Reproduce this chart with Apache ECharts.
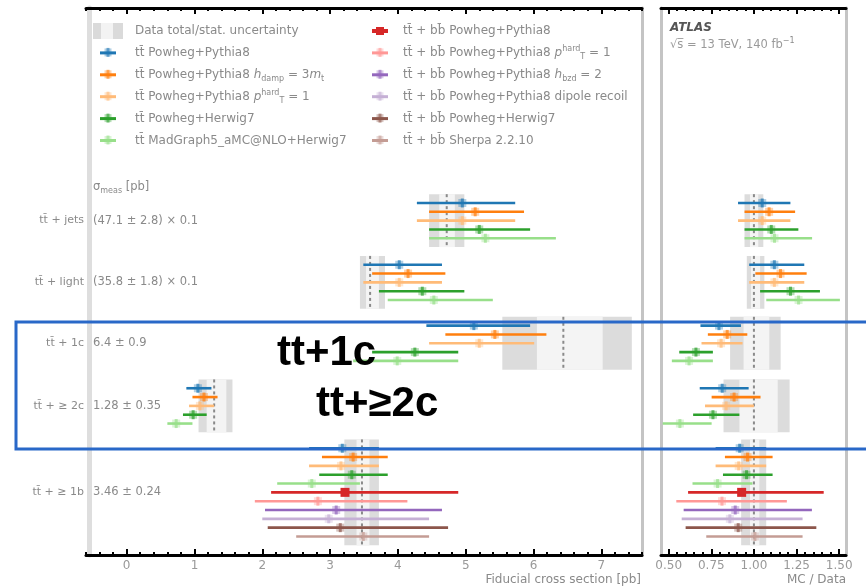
<!DOCTYPE html>
<html><head><meta charset="utf-8">
<script src="https://cdn.jsdelivr.net/npm/echarts@6/dist/echarts.min.js"></script>
<style>html,body{margin:0;padding:0;background:#fff}#c{width:866px;height:587px}</style>
</head><body><div id="c"></div>
<script>
// ---------------- data ----------------
const categories = ['tt\u0304 + jets', 'tt\u0304 + light', 'tt\u0304 + 1c', 'tt\u0304 + \u2265 2c', 'tt\u0304 + \u2265 1b'];
const sigmaLabels = ['(47.1 \u00b1 2.8) \u00d7 0.1', '(35.8 \u00b1 1.8) \u00d7 0.1', '6.4 \u00b1 0.9', '1.28 \u00b1 0.35', '3.46 \u00b1 0.24'];
const sigmaHeader = '\u03c3{sub|meas} [pb]';

// measured fiducial cross sections [pb] (jets & light scaled by 0.1)
const dataCenter = [4.72, 3.59, 6.44, 1.29, 3.47];
const dataTotLo  = [4.46, 3.44, 5.54, 1.06, 3.21];
const dataTotHi  = [4.98, 3.81, 7.45, 1.56, 3.72];
const dataStatLo = [4.61, 3.53, 6.05, 1.18, 3.39];
const dataStatHi = [4.84, 3.72, 7.02, 1.47, 3.58];

// predictions: [low, central, high] per category (jets, light, 1c, >=2c, >=1b)
const ttPP8       = [[4.28, 4.95, 5.73], [3.49, 4.02, 4.65], [4.42, 5.12, 5.95], [0.88, 1.05, 1.25], [2.69, 3.18, 3.72]];
const ttPP8hdamp  = [[4.46, 5.14, 5.86], [3.62, 4.15, 4.70], [4.70, 5.43, 6.19], [0.97, 1.14, 1.34], [2.88, 3.34, 3.85]];
const ttPP8pthard = [[4.28, 4.95, 5.73], [3.49, 4.02, 4.65], [4.46, 5.20, 6.01], [0.92, 1.08, 1.29], [2.69, 3.16, 3.72]];
const ttPH7       = [[4.46, 5.20, 5.95], [3.72, 4.36, 4.98], [3.62, 4.25, 4.89], [0.83, 0.98, 1.18], [2.84, 3.32, 3.85]];
const ttMGH7      = [[4.46, 5.29, 6.33], [3.85, 4.53, 5.40], [3.34, 3.99, 4.89], [0.60, 0.73, 0.97], [2.22, 2.73, 3.44]];
const bbPP8       = [null, null, null, null, [2.13, 3.22, 4.89]];
const bbPP8pthard = [null, null, null, null, [1.89, 2.82, 4.14]];
const bbPP8hbzd   = [null, null, null, null, [2.04, 3.09, 4.65]];
const bbPP8dipole = [null, null, null, null, [2.00, 2.98, 4.46]];
const bbPH7       = [null, null, null, null, [2.08, 3.15, 4.74]];
const bbSherpa    = [null, null, null, null, [2.50, 3.49, 4.46]];

const modelValues = [ttPP8, ttPP8hdamp, ttPP8pthard, ttPH7, ttMGH7, bbPP8, bbPP8pthard, bbPP8hbzd, bbPP8dipole, bbPH7, bbSherpa];
const modelNames = [
  'tt\u0304 Powheg+Pythia8',
  'tt\u0304 Powheg+Pythia8 {i|h}{sub|damp} = 3{i|m}{sub|t}',
  'tt\u0304 Powheg+Pythia8 {i|p}{supsub|hard}{sub|T} = 1',
  'tt\u0304 Powheg+Herwig7',
  'tt\u0304 MadGraph5_aMC@NLO+Herwig7',
  'tt\u0304 + bb\u0304 Powheg+Pythia8',
  'tt\u0304 + bb\u0304 Powheg+Pythia8 {i|p}{supsub|hard}{sub|T} = 1',
  'tt\u0304 + bb\u0304 Powheg+Pythia8 {i|h}{sub|bzd} = 2',
  'tt\u0304 + bb\u0304 Powheg+Pythia8 dipole recoil',
  'tt\u0304 + bb\u0304 Powheg+Herwig7',
  'tt\u0304 + bb\u0304 Sherpa 2.2.10'
];
const dataLegendName = 'Data total/stat. uncertainty';

// x-axis tick labels
const xLabelsMain = [0, 1, 2, 3, 4, 5, 6, 7];
const xLabelsRatio = [0.5, 0.75, 1.0, 1.25, 1.5];

// ---------------- style / layout ----------------
const modelColors = ['#1f77b4', '#ff7f0e', '#ffbb78', '#2ca02c', '#98df8a', '#d62728', '#ff9896', '#9467bd', '#c5b0d5', '#8c564b', '#c49c94'];
const modelSquare = [false, false, false, false, false, true, false, false, false, false, false];
const rowPos = [24.1, 31.1, 38.0, 45.1, 54.9];
const headerPos = 20.3;
const FONT = 'DejaVu Sans';
const TXT = '#8a8a8a';

const minorMain = [];
for (let i = -3; i <= 38; i++) { const v = +(i * 0.2).toFixed(1); if (Math.abs(v - Math.round(v)) > 1e-6) minorMain.push(v); }
const minorRatio = [];
for (let i = 10; i <= 30; i++) { const v = +(i * 0.05).toFixed(2); if (Math.abs(v * 4 - Math.round(v * 4)) > 1e-6) minorRatio.push(v); }

function rowCount(r) { return modelValues.filter(m => m[r]).length; }
function modelData(mi, ratio) {
  const out = [];
  for (let r = 0; r < categories.length; r++) {
    const v = modelValues[mi][r];
    if (!v) continue;
    let idx = 0;
    for (let k = 0; k < mi; k++) if (modelValues[k][r]) idx++;
    const n = rowCount(r);
    const y = rowPos[r] + (idx - (n - 1) / 2);
    const d = ratio ? dataCenter[r] : 1;
    out.push([v[1] / d, v[0] / d, v[2] / d, y]);
  }
  return out;
}
function bandData(ratio) {
  return categories.map((_, r) => {
    const d = ratio ? dataCenter[r] : 1;
    return [dataTotLo[r] / d, dataTotHi[r] / d, dataStatLo[r] / d, dataStatHi[r] / d, dataCenter[r] / d, rowPos[r], rowCount(r)];
  });
}
function clampX(x, cs) { return Math.max(cs.x, Math.min(cs.x + cs.width, x)); }
function renderBand(params, api) {
  const cs = params.coordSys;
  const y = api.value(5), hh = api.value(6) / 2 + 0.5;
  const top = api.coord([0, y - hh])[1], bot = api.coord([0, y + hh])[1];
  const X = v => clampX(api.coord([v, y])[0], cs);
  const tl = X(api.value(0)), th = X(api.value(1)), sl = X(api.value(2)), sh = X(api.value(3)), c = X(api.value(4));
  return {type: 'group', children: [
    {type: 'rect', shape: {x: tl, y: top, width: th - tl, height: bot - top}, style: {fill: '#dcdcdc'}},
    {type: 'rect', shape: {x: sl, y: top, width: sh - sl, height: bot - top}, style: {fill: '#f4f4f4'}},
    {type: 'line', shape: {x1: c, y1: top, x2: c, y2: bot}, style: {stroke: '#8a8a8a', lineWidth: 2, lineDash: [3, 3]}}
  ]};
}
function makeBarRenderer(color, square) {
  return function (params, api) {
    const cs = params.coordSys;
    const yv = api.value(3);
    const pc = api.coord([api.value(0), yv]);
    const pl = api.coord([api.value(1), yv]);
    const ph = api.coord([api.value(2), yv]);
    const x1 = clampX(pl[0], cs), x2 = clampX(ph[0], cs);
    const ch = [];
    if (x2 > x1) ch.push({type: 'rect', shape: {x: x1, y: pc[1] - 1.3, width: x2 - x1, height: 2.6}, style: {fill: color}});
    if (pc[0] >= cs.x && pc[0] <= cs.x + cs.width) {
      if (square) ch.push({type: 'rect', shape: {x: pc[0] - 4.5, y: pc[1] - 4.5, width: 9, height: 9}, style: {fill: color}});
      else {
        ch.push({type: 'rect', shape: {x: pc[0] - 4, y: pc[1] - 4, width: 8, height: 8}, style: {fill: color, opacity: 0.35}});
        ch.push({type: 'rect', shape: {x: pc[0] - 1.5, y: pc[1] - 4.5, width: 3, height: 9}, style: {fill: color, opacity: 0.7}});
      }
    }
    return {type: 'group', children: ch};
  };
}

function xAxisDef(grid, pos, min, max, ticks, len, showLine, labels, fmt) {
  return {
    type: 'value', gridIndex: grid, position: pos, min: min, max: max,
    axisLine: {show: showLine, onZero: false, lineStyle: {color: '#000', width: 3}},
    axisTick: {show: true, inside: true, length: len, customValues: ticks, lineStyle: {color: '#000', width: 2}},
    axisLabel: labels ? {show: true, customValues: labels, formatter: fmt, color: '#999', fontFamily: FONT, fontSize: 12, margin: 5} : {show: false},
    splitLine: {show: false}, minorTick: {show: false}
  };
}
const yBase = {type: 'value', inverse: true, min: 0, max: 62, splitLine: {show: false}, axisTick: {show: false}};
function yAxisDef(grid, pos, extra) {
  return Object.assign({}, yBase, {gridIndex: grid, position: pos,
    axisLine: {show: true, onZero: false, lineStyle: {color: '#c4c4c4', width: 3}},
    axisLabel: {show: false}}, extra || {});
}

const richSub = {
  sub: {fontFamily: FONT, fontSize: 8, verticalAlign: 'bottom', lineHeight: 9, fill: TXT, color: TXT},
  supsub: {fontFamily: FONT, fontSize: 8, verticalAlign: 'top', lineHeight: 9, fill: TXT, color: TXT},
  sup: {fontFamily: FONT, fontSize: 8, verticalAlign: 'top', lineHeight: 9, fill: TXT, color: TXT},
  i: {fontFamily: FONT, fontSize: 12, fontStyle: 'italic', fill: TXT, color: TXT}
};

const series = [];
series.push({type: 'custom', name: dataLegendName, xAxisIndex: 0, yAxisIndex: 0, data: bandData(false), renderItem: renderBand, z: 1, silent: true});
series.push({type: 'custom', name: dataLegendName + ' ratio', xAxisIndex: 4, yAxisIndex: 3, data: bandData(true), renderItem: renderBand, z: 1, silent: true});
modelValues.forEach((m, mi) => {
  const r = makeBarRenderer(modelColors[mi], modelSquare[mi]);
  series.push({type: 'custom', name: modelNames[mi], xAxisIndex: 0, yAxisIndex: 0, data: modelData(mi, false), renderItem: r, z: 3, silent: true});
  series.push({type: 'custom', name: modelNames[mi] + ' ratio', xAxisIndex: 4, yAxisIndex: 3, data: modelData(mi, true), renderItem: r, z: 3, silent: true});
});

// ---------------- graphic: legend, labels, annotations ----------------
const graphics = [];
function legendIcon(cx, cy, mi) {
  const col = modelColors[mi];
  if (modelSquare[mi]) {
    graphics.push({type: 'rect', shape: {x: cx - 8, y: cy - 2, width: 16, height: 4}, style: {fill: col}});
    graphics.push({type: 'rect', shape: {x: cx - 4, y: cy - 4, width: 8, height: 8}, style: {fill: col}});
  } else {
    graphics.push({type: 'rect', shape: {x: cx - 8, y: cy - 1.5, width: 16, height: 3}, style: {fill: col}});
    graphics.push({type: 'rect', shape: {x: cx - 3.5, y: cy - 4.5, width: 7, height: 8}, style: {fill: col, opacity: 0.35}});
    graphics.push({type: 'rect', shape: {x: cx - 1.5, y: cy - 5, width: 3, height: 9}, style: {fill: col, opacity: 0.6}});
  }
}
function legendText(x, y, txt) {
  graphics.push({type: 'text', x: x, y: y, style: {text: txt, fontFamily: FONT, fontSize: 12, fill: TXT, lineHeight: 16, verticalAlign: 'middle', align: 'left', rich: richSub}});
}
const rowY = i => 31 + i * 21.9;
// data entry
graphics.push({type: 'rect', shape: {x: 93, y: 23, width: 30, height: 16}, style: {fill: '#dadada'}});
graphics.push({type: 'rect', shape: {x: 101, y: 23, width: 12, height: 16}, style: {fill: '#f3f3f3'}});
legendText(135, rowY(0), dataLegendName);
for (let i = 0; i < 5; i++) { legendIcon(108, rowY(i + 1), i); legendText(135, rowY(i + 1), modelNames[i]); }
for (let i = 5; i < 11; i++) { legendIcon(380, rowY(i - 5), i); legendText(403, rowY(i - 5), modelNames[i]); }

graphics.push({type: 'text', x: 670, y: 28, style: {text: 'ATLAS', fontFamily: FONT, fontSize: 12, fontWeight: 'bold', fontStyle: 'italic', fill: '#555', verticalAlign: 'middle'}});
graphics.push({type: 'text', x: 670, y: 45, style: {text: '\u221as\u0305 = 13 TeV, 140 fb{sup|\u22121}', fontFamily: FONT, fontSize: 11.5, fill: '#9a9a9a', lineHeight: 16, verticalAlign: 'middle', rich: richSub}});
graphics.push({type: 'text', x: 641, y: 580, style: {text: 'Fiducial cross section [pb]', fontFamily: FONT, fontSize: 12, fill: TXT, align: 'right', verticalAlign: 'middle'}});
graphics.push({type: 'text', x: 846, y: 580, style: {text: 'MC / Data', fontFamily: FONT, fontSize: 12, fill: TXT, align: 'right', verticalAlign: 'middle'}});

// annotation overlay
graphics.push({type: 'rect', z: 100, shape: {x: 16, y: 322, width: 880, height: 127}, style: {fill: null, stroke: '#2968c8', lineWidth: 3}});
graphics.push({type: 'text', z: 101, x: 277, y: 353, style: {text: 'tt+1c', fontFamily: 'Liberation Sans', fontWeight: 'bold', fontSize: 42, fill: '#000', verticalAlign: 'middle'}});
graphics.push({type: 'text', z: 101, x: 316, y: 404, style: {text: 'tt+\u22652c', fontFamily: 'Liberation Sans', fontWeight: 'bold', fontSize: 42, fill: '#000', verticalAlign: 'middle'}});

// ---------------- option ----------------
const option = {
  animation: false,
  backgroundColor: '#fff',
  textStyle: {fontFamily: FONT},
  grid: [
    {left: 86, right: 224, top: 8, bottom: 32, outerBoundsMode: 'none'},
    {left: 661, right: 20, top: 8, bottom: 32, outerBoundsMode: 'none'}
  ],
  xAxis: [
    xAxisDef(0, 'bottom', -0.6, 7.6, xLabelsMain, 6, true, xLabelsMain, v => String(v)),
    xAxisDef(0, 'bottom', -0.6, 7.6, minorMain, 3, false, null),
    xAxisDef(0, 'top', -0.6, 7.6, xLabelsMain, 6, true, null),
    xAxisDef(0, 'top', -0.6, 7.6, minorMain, 3, false, null),
    xAxisDef(1, 'bottom', 0.455, 1.54, xLabelsRatio, 6, true, xLabelsRatio, v => Number(v).toFixed(2)),
    xAxisDef(1, 'bottom', 0.455, 1.54, minorRatio, 3, false, null),
    xAxisDef(1, 'top', 0.455, 1.54, xLabelsRatio, 6, true, null),
    xAxisDef(1, 'top', 0.455, 1.54, minorRatio, 3, false, null)
  ],
  yAxis: [
    yAxisDef(0, 'left', {offset: -3,
      axisLine: {show: true, onZero: false, lineStyle: {color: '#dedede', width: 5}},
      axisLabel: {show: true, customValues: rowPos, margin: 5, color: TXT, fontFamily: FONT, fontSize: 11,
        formatter: (v, i) => { const r = rowPos.indexOf(v); return categories[r >= 0 ? r : i]; }}}),
    yAxisDef(0, 'left', {offset: -3, axisLine: {show: false},
      axisLabel: {show: true, inside: true, customValues: [headerPos].concat(rowPos), margin: 4, color: TXT, fontFamily: FONT, fontSize: 11.5, lineHeight: 16,
        rich: {sub: {fontFamily: FONT, fontSize: 8, verticalAlign: 'bottom', lineHeight: 9, color: TXT}},
        formatter: (v, i) => { if (v === headerPos) return sigmaHeader; const r = rowPos.indexOf(v); return sigmaLabels[r >= 0 ? r : i - 1]; }}}),
    yAxisDef(0, 'right'),
    yAxisDef(1, 'left'),
    yAxisDef(1, 'right')
  ],
  series: series,
  graphic: {elements: graphics}
};
const chart = echarts.init(document.getElementById('c'));
chart.setOption(option);
</script>
</body></html>
